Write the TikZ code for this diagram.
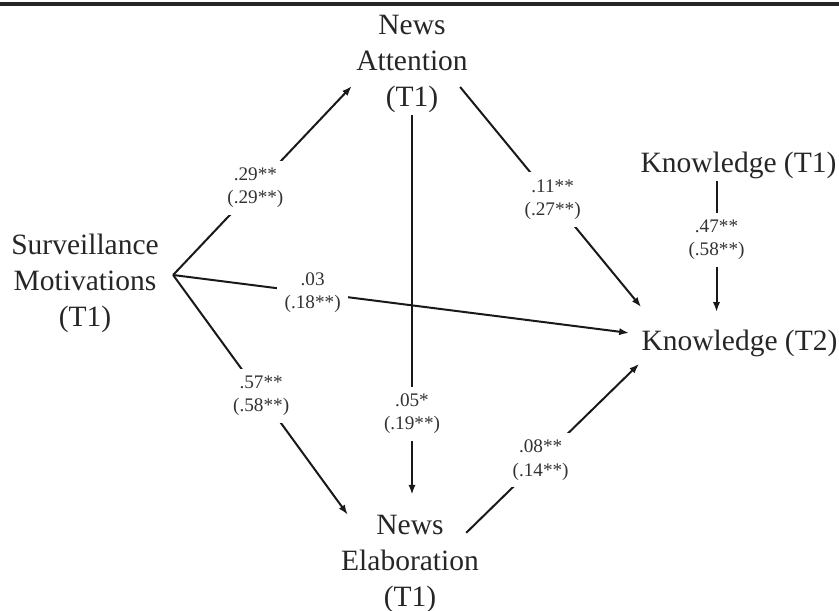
\documentclass[tikz,border=0pt]{standalone}
\usepackage{fontspec}
\setmainfont{Liberation Serif}
\usetikzlibrary{arrows.meta,calc}

\tikzset{
  var/.style={align=center, inner sep=0pt, text=black!85, font=\fontsize{14.75}{18}\selectfont},
  coef/.style={align=center, fill=white, inner sep=3.6pt, text=black!80, font=\fontsize{9.6}{11.6}\selectfont},
  link/.style={draw=black!90, line width=1pt, -{Latex[length=5pt,width=3.6pt]}},
}

\begin{document}
\begin{tikzpicture}[x=0.5pt,y=-0.5pt]
	\useasboundingbox (0,0) rectangle (839,610);
	\draw[line width=1.6pt, black!85] (0,4) -- (839,4);
	
	\node[var] (att) at (412,64) {News\\Attention\\(T1)};
	\node[var] (surv) at (85,283) {Surveillance\\Motivations\\(T1)};
	\node[var] (elab) at (410,564) {News\\Elaboration\\(T1)};
	
	\node[var, anchor=base] (k1) at (738.5,172) {Knowledge (T1)};
	\node[var, anchor=base] (k2) at (739.5,350) {Knowledge (T2)};
	
	\draw[link] ($(surv.east)+(14,-8)$) to node[coef, pos=0.46] {.29**\\(.29**)} ($(att.west)+(-4,22)$);
	\draw[link] ($(surv.east)+(14,-8)$) to node[coef, pos=0.306] {.03\\(.18**)} ($(k2.west)+(-12,-10)$);
	\draw[link] ($(surv.east)+(14,-8)$) to node[coef, pos=0.504] {.57**\\(.58**)} ($(elab.north west)+(7,0)$);
	\draw[link] ($(att.east)+(-8,23)$) to node[coef, pos=0.511] {.11**\\(.27**)} ($(k2.north west)+(0,-22)$);
	\draw[link] ($(att.south)+(0,2)$) to node[coef, pos=0.787] {.05*\\(.19**)} ($(att.south |- elab.north)+(0,-20)$);
	\draw[link] ($(elab.north east)+(-13,18)$) to node[coef, pos=0.43] {.08**\\(.14**)} ($(k2.south west)+(-2,7)$);
	\draw[link] ($(k1.south)+(-22,2)$) to node[coef, pos=0.45] {.47**\\(.58**)} ($(k1.south |- k2.north)+(-22,-17)$);
\end{tikzpicture}
\end{document}
